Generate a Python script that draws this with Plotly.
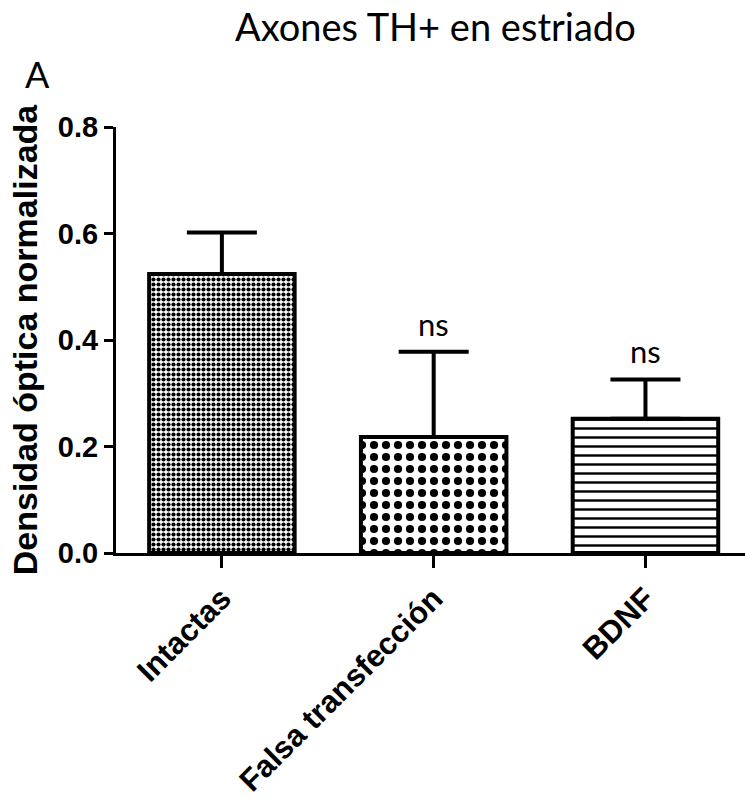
import plotly.graph_objects as go

categories = ["Intactas", "Falsa transfección", "BDNF"]
means = [0.524, 0.218, 0.252]
errors = [0.078, 0.160, 0.074]
sig_labels = ["", "ns", "ns"]
patterns = [".", ".", "-"]
pattern_sizes = [5, 12, 9]
pattern_solidity = [0.55, 0.36, 0.27]
tick_vals = [0.0, 0.2, 0.4, 0.6, 0.8]
tick_text = ["0.0", "0.2", "0.4", "0.6", "0.8"]

fig = go.Figure()
fig.add_trace(go.Bar(
    x=categories,
    y=means,
    width=0.687,
    marker=dict(
        color="white",
        line=dict(color="black", width=4),
        pattern=dict(shape=patterns, size=pattern_sizes, solidity=pattern_solidity,
                     fgcolor="black", bgcolor="white", fillmode="replace"),
    ),
    error_y=dict(type="data", symmetric=False, array=errors, arrayminus=[0, 0, 0],
                 color="black", thickness=4, width=35),
    showlegend=False,
))

for c, m, e, s in zip(categories, means, errors, sig_labels):
    if s:
        fig.add_annotation(x=c, y=m + e, text=s, showarrow=False, yshift=28,
                           font=dict(family="Lato, Carlito, sans-serif", size=31, color="black"))

fig.add_annotation(text="Axones TH+ en estriado", xref="paper", yref="paper",
                   x=(435 - 116) / (745 - 116), y=1 + (127 - 26) / 426.0,
                   showarrow=False, xanchor="center", yanchor="middle",
                   font=dict(family="Lato, Carlito, sans-serif", size=38, color="black"))
fig.add_annotation(text="A", xref="paper", yref="paper",
                   x=(37 - 116) / (745 - 116), y=1 + (127 - 74) / 426.0,
                   showarrow=False, xanchor="center", yanchor="middle",
                   font=dict(family="Lato, Carlito, sans-serif", size=36, color="black"))

fig.update_layout(
    width=745, height=799,
    margin=dict(l=116, r=0, t=127, b=246),
    paper_bgcolor="white", plot_bgcolor="white",
    font=dict(family="Liberation Sans, Arial, sans-serif", color="black"),
    bargap=0.3,
)
fig.update_yaxes(
    range=[0, 0.8], tickvals=tick_vals, ticktext=tick_text,
    showline=True, linecolor="black", linewidth=3, ticks="outside", ticklen=9,
    tickwidth=3, tickcolor="black", showgrid=False, zeroline=False,
    tickfont=dict(family="Liberation Sans, Arial, sans-serif", size=29, color="black", weight="bold"),
    title=dict(text="Densidad óptica normalizada", standoff=10,
               font=dict(family="Liberation Sans, Arial, sans-serif", size=34, color="black", weight="bold")),
)
fig.update_xaxes(
    range=[-0.5, 2.47],
    showline=True, linecolor="black", linewidth=3, ticks="outside", ticklen=12,
    tickwidth=3, tickcolor="black", showgrid=False, tickangle=-45,
    tickfont=dict(family="Liberation Sans, Arial, sans-serif", size=31, color="black", weight="bold"),
)

fig.write_html("out.html")
